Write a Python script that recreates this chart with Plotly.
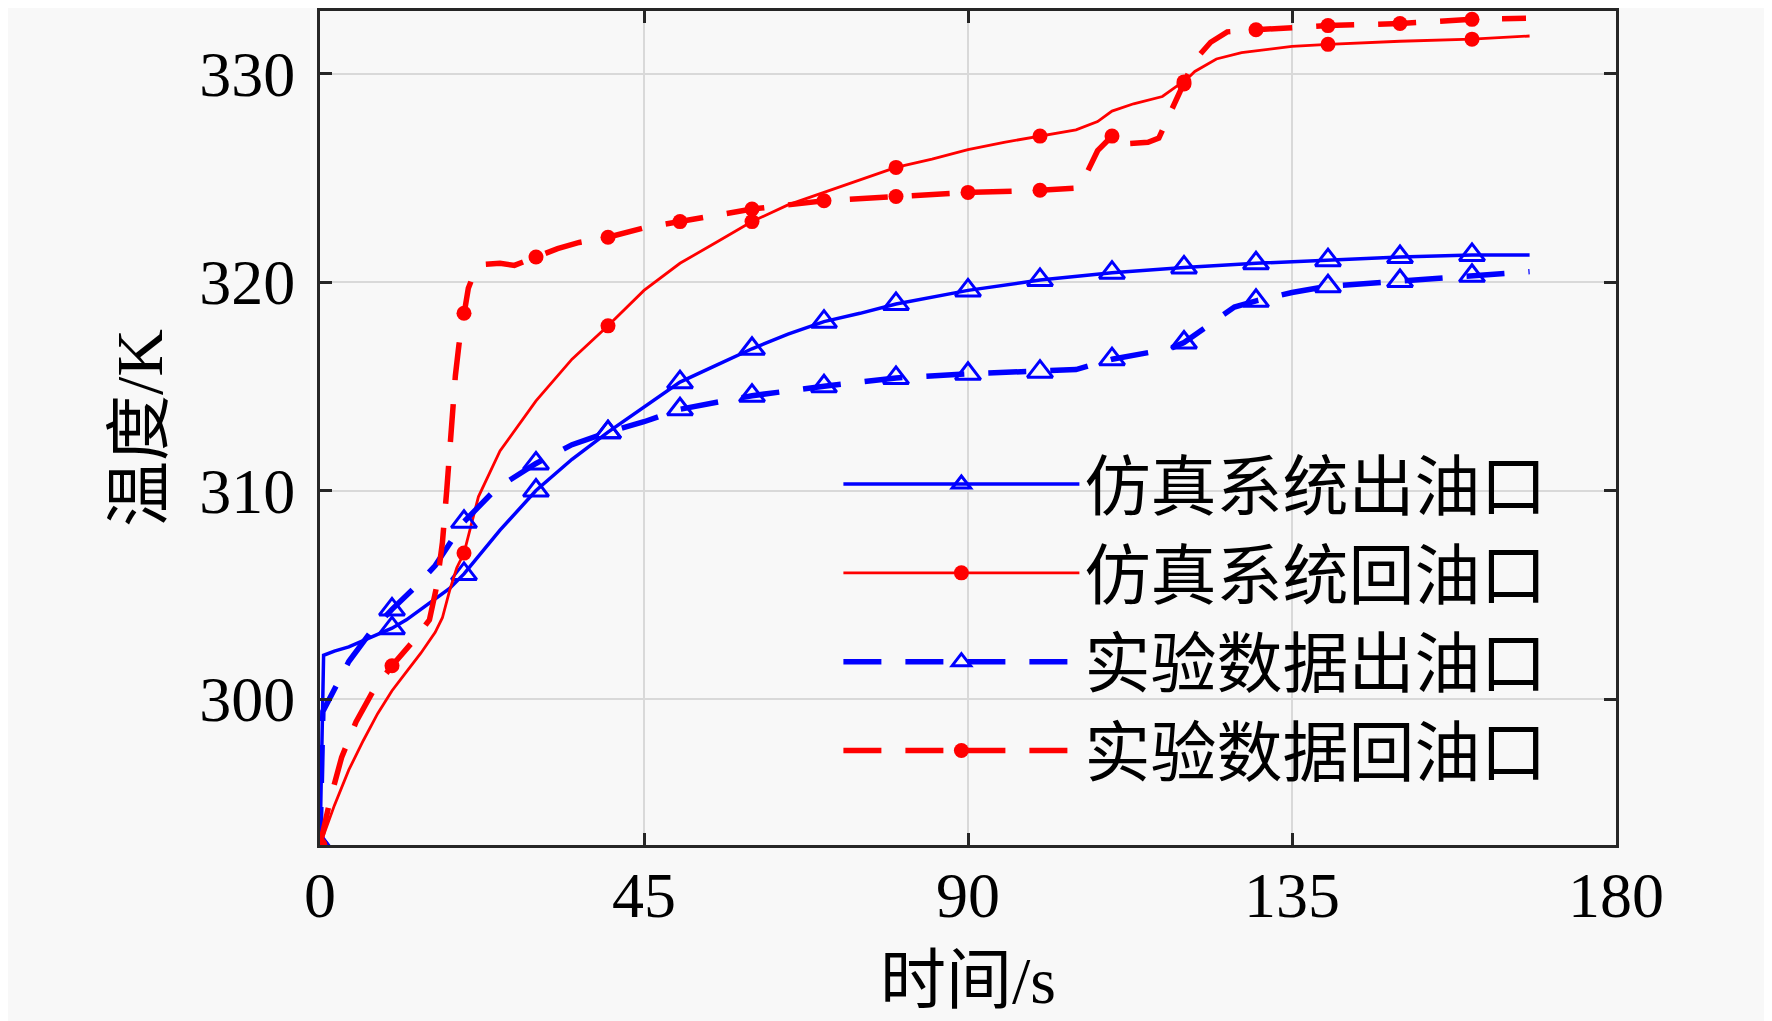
import plotly.graph_objects as go

# 仿真系统出油口 (simulation, outlet)
sim_out_t = [0, 0.5, 2, 4, 6, 8, 10, 12, 14, 16, 18, 20, 25, 30, 35, 40, 45, 50, 55, 60,
             65, 70, 75, 80, 90, 100, 110, 120, 130, 140, 150, 160, 168]
sim_out_T = [293.0, 302.1, 302.3, 302.5, 302.8, 303.1, 303.4, 303.8, 304.3, 304.8, 305.3, 306.0,
             308.1, 310.0, 311.5, 312.8, 314.0, 315.2, 316.0, 316.8, 317.5, 318.1, 318.5, 318.95,
             319.6, 320.1, 320.45, 320.7, 320.9, 321.05, 321.2, 321.3, 321.3]

# 仿真系统回油口 (simulation, return)
sim_ret_t = [0, 2, 4, 6, 8, 10, 12, 14, 16, 17, 18, 19, 20, 22, 25, 30, 35, 40, 45, 50, 55, 60,
             65, 70, 75, 80, 85, 90, 95, 100, 105, 108, 110, 113, 117, 119, 120, 121.5, 124.5,
             128, 135, 140, 150, 160, 168]
sim_ret_T = [293.0, 294.9, 296.6, 298.0, 299.3, 300.4, 301.3, 302.2, 303.2, 303.9, 305.2, 306.3,
             307.0, 309.7, 311.9, 314.3, 316.3, 317.9, 319.6, 320.9, 321.9, 322.9, 323.7, 324.3,
             324.9, 325.5, 325.9, 326.35, 326.7, 327.0, 327.3, 327.7, 328.2, 328.55, 328.9, 329.4,
             329.6, 330.1, 330.7, 331.0, 331.3, 331.4, 331.55, 331.65, 331.8]

# 实验数据出油口 (experiment, outlet)
exp_out_t = [0, 0.4, 2.5, 4, 7, 10, 13, 16, 20, 24.5, 30, 35, 40, 45, 50, 60, 70, 80, 90, 100,
             105, 110, 115, 118, 120, 124, 127, 130, 135, 140, 150, 160, 168]
exp_out_T = [293.0, 299.4, 300.8, 301.8, 303.2, 304.3, 305.3, 306.4, 308.5, 310.1, 311.3, 312.2,
             312.8, 313.3, 313.9, 314.55, 315.0, 315.4, 315.6, 315.7, 315.8, 316.3, 316.6, 316.8,
             317.1, 318.1, 318.8, 319.1, 319.5, 319.8, 320.05, 320.3, 320.5]

# 实验数据回油口 (experiment, return)
exp_ret_t = [0, 1.5, 3, 5, 7.4, 10, 13, 15.2, 16.2, 17, 17.6, 18.2, 18.8, 19.3, 20, 20.6, 21.5,
             23, 25, 27, 30, 33, 36, 40, 45, 50, 55, 60, 65, 70, 80, 90, 100, 105, 106.6, 108,
             110, 112.5, 115, 116.5, 118.2, 120, 121.4, 123.7, 126, 130, 136, 140, 150, 160, 167.5]
exp_ret_T = [293.0, 295.3, 297.2, 298.9, 300.4, 301.6, 302.8, 303.8, 305.4, 307.5, 310.0, 313.0,
             315.5, 317.0, 318.5, 319.7, 320.5, 320.85, 320.9, 320.8, 321.2, 321.6, 321.9, 322.15,
             322.6, 322.9, 323.2, 323.5, 323.7, 323.9, 324.1, 324.3, 324.4, 324.5, 325.3, 326.3,
             327.0, 326.65, 326.7, 326.9, 328.2, 329.5, 330.6, 331.5, 332.0, 332.1, 332.2, 332.3,
             332.4, 332.6, 332.65]

# 标记点所在时刻
sim_out_marks = list(range(0, 161, 10))
sim_ret_marks = list(range(0, 161, 20))
exp_out_marks = list(range(0, 161, 10))
exp_ret_marks = list(range(0, 161, 10))

names = ['仿真系统出油口', '仿真系统回油口', '实验数据出油口', '实验数据回油口']

font_main = 'Liberation Serif, Noto Sans CJK SC'


def mark_colors(t_list, marks, color):
    # 只在标记时刻显示符号, 其他点透明
    return [color if t in marks else 'rgba(0,0,0,0)' for t in t_list]


series = [
    (sim_out_t, sim_out_T, sim_out_marks, 'blue', 'solid', 3.5, 'triangle-up-open', 22),
    (sim_ret_t, sim_ret_T, sim_ret_marks, 'red', 'solid', 2.8, 'circle', 15),
    (exp_out_t, exp_out_T, exp_out_marks, 'blue', '38px,24px', 5.5, 'triangle-up-open', 22),
    (exp_ret_t, exp_ret_T, exp_ret_marks, 'red', '38px,24px', 5.5, 'circle', 15),
]

fig = go.Figure()
for name, (t, T, marks, color, dash, lw, symbol, msize) in zip(names, series):
    cols = mark_colors(t, marks, color)
    fig.add_trace(go.Scatter(
        x=t, y=T, name=name,
        mode='lines+markers',
        line=dict(color=color, width=lw, dash=dash),
        marker=dict(symbol=symbol, size=msize, color=cols,
                    line=dict(width=3 if 'open' in symbol else 0, color=cols)),
    ))

fig.update_layout(
    width=1772, height=1021,
    paper_bgcolor='#f8f8f8', plot_bgcolor='#f8f8f8',
    margin=dict(l=312, r=164, t=0, b=184),
    font=dict(family=font_main, size=64, color='black'),
    showlegend=True,
    legend=dict(
        x=0.400, y=0.492, xanchor='left', yanchor='top',
        bgcolor='rgba(0,0,0,0)', borderwidth=0,
        itemwidth=236, tracegroupgap=0,
        font=dict(family=font_main, size=66, color='black'),
    ),
)

fig.update_xaxes(
    range=[0, 180], tickvals=[0, 45, 90, 135, 180],
    showgrid=True, gridcolor='#d9d9d9', gridwidth=2,
    showline=True, linecolor='#262626', linewidth=3, mirror='ticks',
    ticks='inside', ticklen=12, tickwidth=3, tickcolor='#262626',
    tickfont=dict(family=font_main, size=64, color='black'),
    ticklabelstandoff=-8,
    title=dict(text='时间/s', font=dict(family=font_main, size=66, color='black'), standoff=28),
    zeroline=False,
)
fig.update_yaxes(
    range=[293, 333], tickvals=[300, 310, 320, 330],
    showgrid=True, gridcolor='#d9d9d9', gridwidth=2,
    showline=True, linecolor='#262626', linewidth=3, mirror='ticks',
    ticks='inside', ticklen=12, tickwidth=3, tickcolor='#262626',
    tickfont=dict(family=font_main, size=64, color='black'),
    ticklabelstandoff=9,
    title=dict(text='温度/K', font=dict(family=font_main, size=66, color='black'), standoff=16),
    zeroline=False,
)

fig.write_html("out.html")
